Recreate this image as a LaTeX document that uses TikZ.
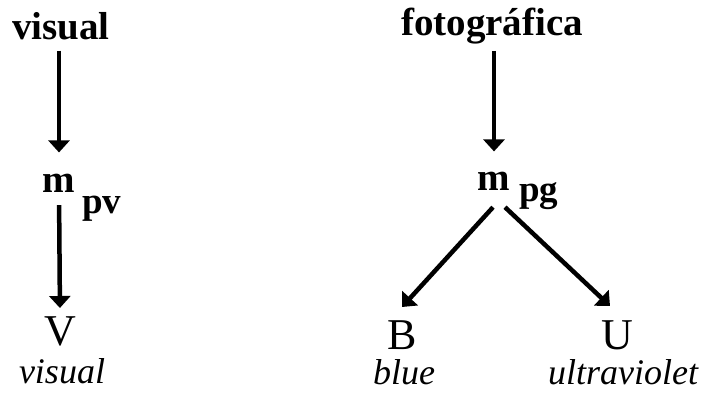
\documentclass[tikz,border=0pt]{standalone}
\usepackage{fontspec}
\setmainfont{Liberation Serif}
\usetikzlibrary{arrows.meta,calc}
\begin{document}
\begin{tikzpicture}[x=1pt,y=-1pt,
 lbl/.style={inner sep=0pt,anchor=base,font=\fontsize{39}{41}\selectfont\bfseries},
 subl/.style={inner sep=0pt,anchor=base west,font=\fontsize{37}{39}\selectfont\bfseries},
 letter/.style={inner sep=0pt,anchor=base,font=\fontsize{44}{46}\selectfont},
 namel/.style={inner sep=0pt,anchor=base,font=\fontsize{36}{38}\selectfont\itshape},
 arr/.style={line width=4.5pt,-{Triangle[length=12pt,width=21pt]}}]
\useasboundingbox (0,0) rectangle (708,393);
% left column
\node[lbl] (top1) at (61,40) {visual};
\node[lbl] (m1) at (59,192) {m};
\node[subl] (s1) at (82,213) {pv};
\node[letter] (V) at (60,345) {V};
\node[namel] (n1) at (62,383) {visual};
% right column
\node[lbl] (top2) at (492,36) {fotográfica};
\node[lbl] (m2) at (494,190) {m};
\node[subl] (s2) at (519,201) {pg};
\node[letter] (B) at (402,349) {B};
\node[letter] (U) at (617,349) {U};
\node[namel] (n2) at (404,384) {blue};
\node[namel] (n3) at (623,384) {ultraviolet};
% connectors
\draw[arr,shorten <=10pt,shorten >=21pt] (top1.south -| m1.north) -- (m1.north);
\draw[arr,shorten <=13pt,shorten >=8pt] (m1.south) -- (V.north);
\draw[arr,shorten <=6pt,shorten >=20pt] (top2.south -| m2.north) -- (m2.north);
\draw[arr] ($(m2.south)+(-1,17)$) -- ($(B.north)+(0,-13)$);
\draw[arr] ($(m2.south)+(11,17)$) -- ($(U.north)+(-7,-14)$);
\end{tikzpicture}
\end{document}
